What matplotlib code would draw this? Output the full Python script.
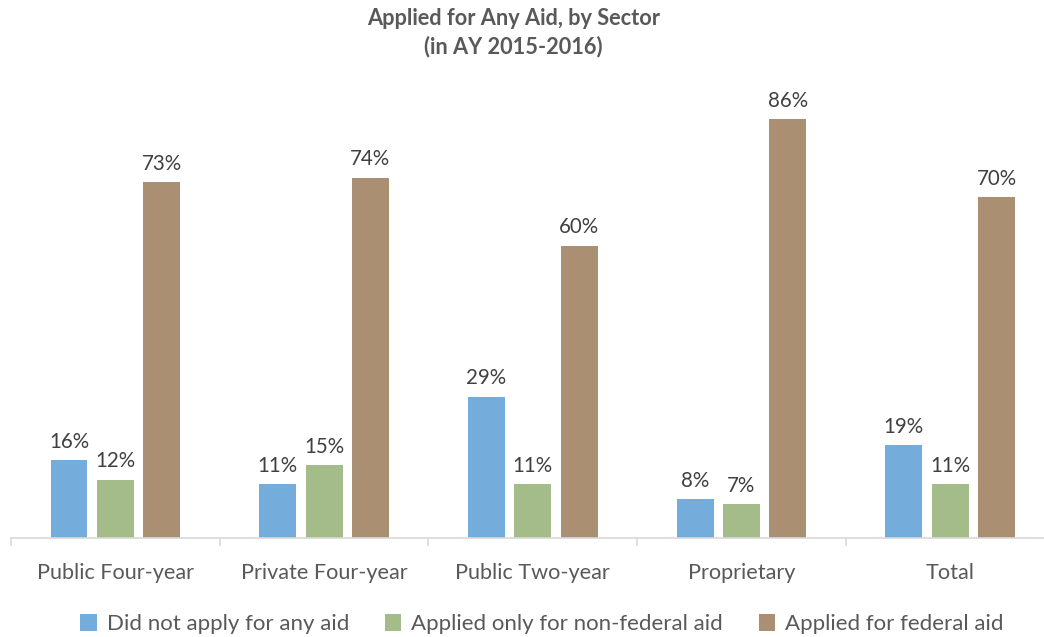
import matplotlib
matplotlib.use("Agg")
import matplotlib.pyplot as plt
import numpy as np

categories = ["Public Four-year", "Private Four-year", "Public Two-year", "Proprietary", "Total"]
series_names = ["Did not apply for any aid", "Applied only for non-federal aid", "Applied for federal aid"]
did_not_apply = [16, 11, 29, 8, 19]
non_federal_only = [12, 15, 11, 7, 11]
federal = [73, 74, 60, 86, 70]
colors = ["#74ADDB", "#A3BC8A", "#AA8F72"]

plt.rcParams['font.family'] = ['Lato', 'DejaVu Sans']

fig = plt.figure(figsize=(10.44, 6.37), dpi=100)
ax = fig.add_axes([11/1044, 99/637, 5*208.7/1044, 487/637])

x = np.arange(len(categories))
width = 0.177
offsets = [-0.222, 0.0, 0.222]
all_series = [did_not_apply, non_federal_only, federal]
for vals, off, col, name in zip(all_series, offsets, colors, series_names):
    bars = ax.bar(x + off, vals, width=width, color=col, label=name)
    for b, v in zip(bars, vals):
        ax.annotate(f"{v}%", (b.get_x() + b.get_width()/2, v), xytext=(0, 6),
                    textcoords="offset points", ha="center", va="bottom",
                    fontsize=14.8, color="#404040")

ax.set_xlim(-0.5, 4.5)
ax.set_ylim(0, 100)
ax.set_yticks([])
for s in ["top", "right", "left"]:
    ax.spines[s].set_visible(False)
ax.spines["bottom"].set_color("#D9D9D9")
ax.spines["bottom"].set_linewidth(1.2)
ax.set_xticks(np.arange(-0.5, 5.0, 1.0), minor=False)
ax.set_xticklabels([])
ax.tick_params(axis="x", which="major", length=6, color="#D9D9D9", width=1.2)
ax.set_xticks(x, minor=True)
ax.set_xticklabels(categories, minor=True, fontsize=15.6, color="#595959")
ax.tick_params(axis="x", which="minor", length=0, pad=18)

fig.text(0.4915, 0.987, "Applied for Any Aid, by Sector\n(in AY 2015-2016)", ha="center", va="top",
         fontsize=15.7, fontweight="bold", color="#595959", linespacing=1.35)

handles, labels = ax.get_legend_handles_labels()
leg = fig.legend(handles, labels, loc="center", bbox_to_anchor=(0.519, 0.02), ncol=3, frameon=False,
                 fontsize=16, handlelength=0.75, handleheight=0.75, handletextpad=0.45,
                 columnspacing=1.6, labelcolor="#595959")

fig.savefig("out.png", dpi=100)
